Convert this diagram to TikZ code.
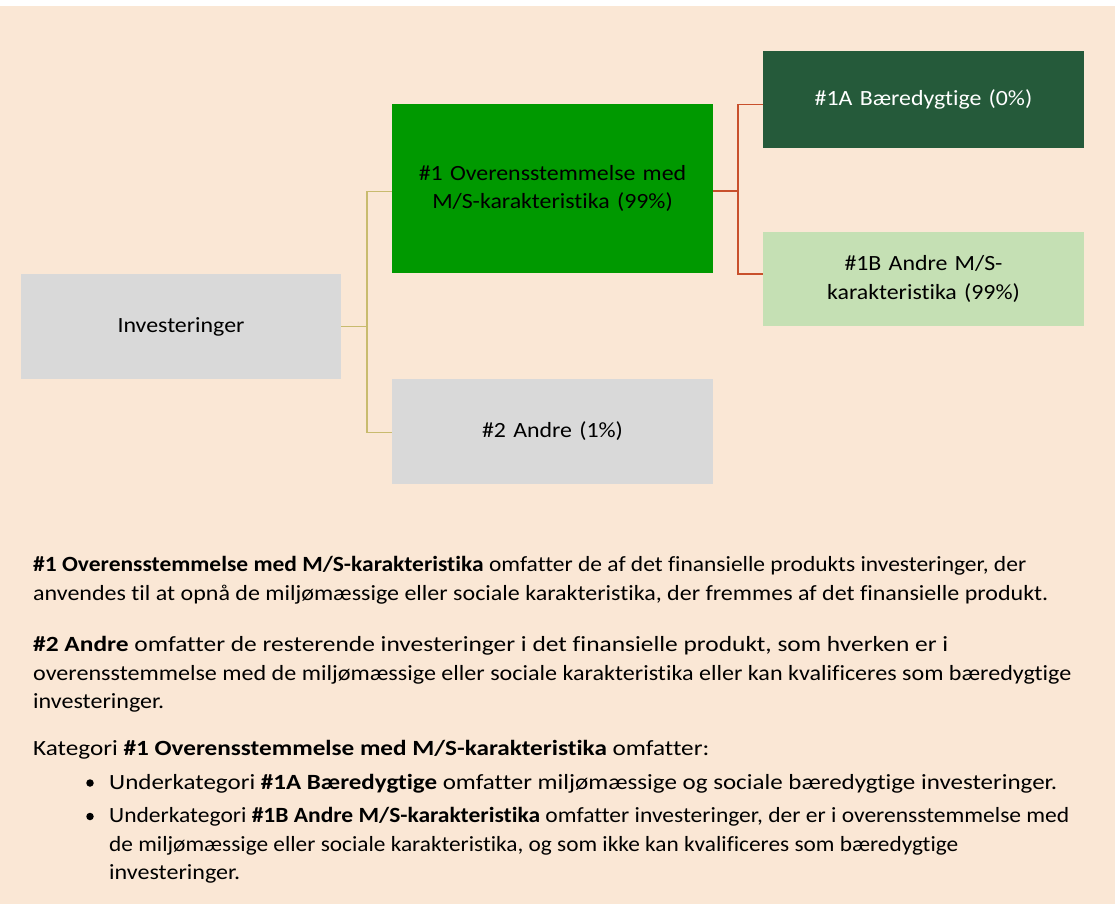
\documentclass[tikz,border=0pt]{standalone}
\usepackage{fontspec}
\usepackage{graphicx}
\setmainfont{Carlito}[Ligatures=NoCommon]
\newfontfamily\boxfont{Carlito}[Ligatures=NoCommon, FakeStretch=1.10]
\newcommand\fitx[2]{\resizebox{#1pt}{\height}{#2}}
\definecolor{bgpeach}{HTML}{FAE7D5}
\definecolor{boxgray}{HTML}{D9D9D9}
\definecolor{boxgreen}{HTML}{009900}
\definecolor{boxdark}{HTML}{255A3A}
\definecolor{boxlight}{HTML}{C5E0B4}
\definecolor{olivelink}{HTML}{C8BB6E}
\definecolor{redlink}{HTML}{C8502C}
\tikzset{
  box/.style={rectangle, inner sep=4pt, align=center, text width=#1, font=\fontsize{21.7}{28.6}\boxfont},
  olivecon/.style={draw=olivelink, line width=1.4pt},
  redcon/.style={draw=redlink, line width=1.4pt},
  para/.style={anchor=base west, inner sep=0pt, font=\fontsize{21.7}{28.6}\selectfont},
  bulletdot/.style={circle, fill=black, inner sep=0pt, minimum size=7.5pt}
}
\begin{document}
\begin{tikzpicture}[x=1pt, y=-1pt]
\useasboundingbox (0,0) rectangle (1117,904);
\fill[white] (0,0) rectangle (1117,904);
\fill[bgpeach] (0,6) rectangle (1115,904);

% boxes
\node[box=310pt, fill=boxgray, minimum width=320pt, minimum height=105pt] (inv) at (181,326.5) {Investeringer};
\node[box=310pt, fill=boxgreen, minimum width=321pt, minimum height=169pt] (ov) at (552.5,188.5) {\#1 Overensstemmelse med\\M/S-karakteristika (99\%)};
\node[box=310pt, fill=boxgray, minimum width=321pt, minimum height=105pt] (an) at (552.5,431.5) {\#2 Andre (1\%)};
\node[box=310pt, fill=boxdark, text=white, minimum width=321pt, minimum height=97pt] (a1) at (923.5,99.5) {\#1A Bæredygtige (0\%)};
\node[box=310pt, fill=boxlight, minimum width=321pt, minimum height=94pt] (b1) at (923.5,279) {\#1B Andre M/S-\\karakteristika (99\%)};

% connectors
\coordinate (j1) at (367,326.5);
\draw[olivecon] (inv.east) -- (j1);
\draw[olivecon] (j1) |- ([yshift=-3pt]ov.west);
\draw[olivecon] (j1) |- ([yshift=-1pt]an.west);
\coordinate (j2) at (738,191);
\draw[redcon] ([yshift=-2.5pt]ov.east) -- (j2);
\draw[redcon] (j2) |- ([yshift=-5pt]a1.west);
\draw[redcon] (j2) |- ([yshift=5pt]b1.west);

% text
\node[para] (p1a) at (33,571.7) {\fitx{993}{\textbf{\#1 Overensstemmelse med M/S-karakteristika} omfatter de af det finansielle produkts investeringer, der}};
\node[para] (p1b) at (33,600.7) {\fitx{1015}{anvendes til at opnå de miljømæssige eller sociale karakteristika, der fremmes af det finansielle produkt.}};
\node[para] (p2a) at (33,651) {\fitx{915}{\textbf{\#2 Andre} omfatter de resterende investeringer i det finansielle produkt, som hverken er i}};
\node[para] (p2b) at (33,680) {\fitx{1038}{overensstemmelse med de miljømæssige eller sociale karakteristika eller kan kvalificeres som bæredygtige}};
\node[para] (p2c) at (33,708.5) {\fitx{131}{investeringer.}};
\node[para] (p3) at (33,755) {\fitx{676}{Kategori \textbf{\#1 Overensstemmelse med M/S-karakteristika} omfatter:}};
\node[bulletdot] (d1) at (90,783) {};
\node[para] (l1) at (109,789) {\fitx{948}{Underkategori \textbf{\#1A Bæredygtige} omfatter miljømæssige og sociale bæredygtige investeringer.}};
\node[bulletdot] (d2) at (90,816.5) {};
\node[para] (l2a) at (109,822.5) {\fitx{960}{Underkategori \textbf{\#1B Andre M/S-karakteristika} omfatter investeringer, der er i overensstemmelse med}};
\node[para] (l2b) at (109,851) {\fitx{849}{de miljømæssige eller sociale karakteristika, og som ikke kan kvalificeres som bæredygtige}};
\node[para] (l2c) at (109,879) {\fitx{131}{investeringer.}};
\end{tikzpicture}
\end{document}
